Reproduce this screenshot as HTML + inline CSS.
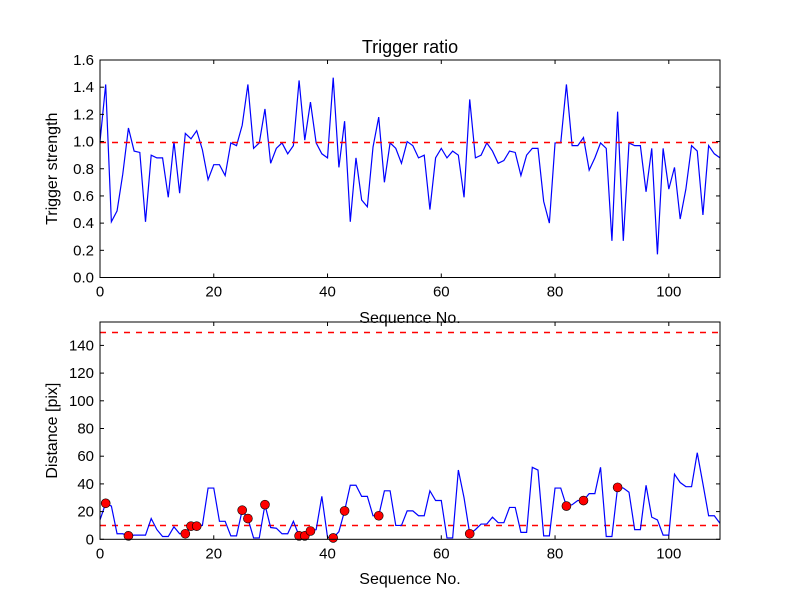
<!DOCTYPE html>
<html><head><meta charset="utf-8"><style>
body{margin:0;background:#fff}
svg{display:block;font-family:"Liberation Sans","DejaVu Sans",sans-serif}
</style></head><body>
<svg id="c" width="800" height="600"></svg>
<script>
const seqMax = 109;
const strength = [1.0,1.42,0.41,0.49,0.76,1.10,0.93,0.92,0.41,0.90,0.88,0.88,0.59,1.0,0.62,1.06,1.02,1.08,0.94,0.72,0.83,0.83,0.75,0.99,0.97,1.12,1.42,0.95,0.99,1.24,0.84,0.95,0.99,0.91,0.97,1.45,1.01,1.29,0.99,0.91,0.88,1.47,0.81,1.15,0.41,0.88,0.57,0.52,0.96,1.18,0.70,0.99,0.95,0.84,1.0,0.97,0.88,0.90,0.50,0.88,0.95,0.88,0.93,0.90,0.59,1.31,0.88,0.90,0.99,0.93,0.84,0.86,0.93,0.92,0.75,0.90,0.95,0.95,0.56,0.40,0.99,0.99,1.42,0.97,0.97,1.03,0.79,0.88,0.99,0.95,0.27,1.22,0.27,0.99,0.97,0.97,0.63,0.95,0.17,0.95,0.65,0.81,0.43,0.65,0.97,0.93,0.46,0.97,0.91,0.88];
const distance = [14,26,24,4,4,2.5,3,3,3,15,7,2,2,9,4,4,9.5,9.5,10,37,37,13,13,2.5,2.5,21,15,1,1,25,8.5,8,4,4,13,2.5,2.5,6,7,31,1.5,1,5.5,20.5,39,39,31,31,17,17,35,35,10,10,20.5,20.5,17,17,35,28,28,1,1,50,30,4,7,11,11,16,12,12,23,23,5,5,52,50,2.5,2.5,37,37,24,25,28,28,33,33,52,2,2,37.5,37,34,7,7,39,16,14,3,3,47,41,38,38,62.5,40,17,17,11.5];
const markerIdx = [1,5,15,16,17,25,26,29,35,36,37,41,43,49,65,82,85,91];
const xTicks = [0,20,40,60,80,100];
const topYTicks = [0,0.2,0.4,0.6,0.8,1.0,1.2,1.4,1.6];
const botYTicks = [0,20,40,60,80,100,120,140];
const topThreshold = [1.0];
const botThresholds = [150,10];

const svg = document.getElementById('c');
const NS = 'http://www.w3.org/2000/svg';
function mk(tag, attrs, parent){const e=document.createElementNS(NS,tag);for(const k in attrs)e.setAttribute(k,attrs[k]);(parent||svg).appendChild(e);return e;}
const L=100,R=720;
const xs = v => L + v*(R-L)/seqMax;

function panel(top,bot,ymax,name){
  const ys = v => bot - v*(bot-top)/ymax;
  const g = mk('g',{});
  
  
  return {g,ys};
}
function axes(p,top,bot,yt,fmt,ylabel,xlabelY){
  const {g,ys}=p;
  xTicks.forEach(t=>{
    const x=xs(t);
    mk('line',{x1:x,x2:x,y1:bot,y2:bot-4,stroke:'#000'},g);
    mk('line',{x1:x,x2:x,y1:top,y2:top+4,stroke:'#000'},g);
    const tx=mk('text',{x:x,y:bot+19,'font-size':15,'text-anchor':'middle'},g);tx.textContent=t;
    
    
  });
  yt.forEach(t=>{
    const y=ys(t);
    mk('line',{x1:L,x2:L+4,y1:y,y2:y,stroke:'#000'},g);
    mk('line',{x1:R,x2:R-4,y1:y,y2:y,stroke:'#000'},g);
    const tx=mk('text',{x:L-6,y:y+5,'font-size':15,'text-anchor':'end'},g);tx.textContent=fmt(t);
    
    
  });
  const r=mk('rect',{x:L,y:top,width:R-L,height:bot-top,fill:'none',stroke:'#000','stroke-width':1},g);
  
  
  const yl=mk('text',{x:0,y:0,'font-size':16,'text-anchor':'middle',transform:`translate(${L-43},${(top+bot)/2}) rotate(-90)`},g);yl.textContent=ylabel;
  
  
  const xl=mk('text',{x:(L+R)/2,y:xlabelY,'font-size':16,'text-anchor':'middle'},g);xl.textContent='Sequence No.';
  
  
}
function dashed(p,v){
  const y=Math.round(p.ys(v))+0.5;
  const l=mk('line',{x1:L,x2:R,y1:y,y2:y,stroke:'#ff0000','stroke-width':1.6,'stroke-dasharray':'6,6'},p.g);
  
  
}
// top panel
const T1=60,B1=277.5,Y1=1.6;
const p1=panel(T1,B1,Y1,'trigger-ratio-panel');
const sl=mk('path',{d:strength.map((v,i)=>(i?'L':'M')+xs(i)+' '+p1.ys(v)).join(''),fill:'none',stroke:'#0000ff','stroke-width':1.2},p1.g);


topThreshold.forEach(v=>dashed(p1,v));
axes(p1,T1,B1,topYTicks,t=>t.toFixed(1),'Trigger strength',323);
const ti=mk('text',{x:410,y:53,'font-size':18,'text-anchor':'middle'});ti.textContent='Trigger ratio';


// bottom panel
const T2=322,B2=539.3,Y2=156.9;
const p2=panel(T2,B2,Y2,'distance-panel');
botThresholds.forEach(v=>dashed(p2,v));
const dl=mk('path',{d:distance.map((v,i)=>(i?'L':'M')+xs(i)+' '+p2.ys(v)).join(''),fill:'none',stroke:'#0000ff','stroke-width':1.2},p2.g);


markerIdx.forEach(i=>{const c=mk('circle',{cx:xs(i),cy:p2.ys(distance[i]),r:4.5,fill:'#ff0000',stroke:'#000','stroke-width':0.6},p2.g);
  
  });
axes(p2,T2,B2,botYTicks,t=>t,'Distance [pix]',584);
</script>
</body></html>
